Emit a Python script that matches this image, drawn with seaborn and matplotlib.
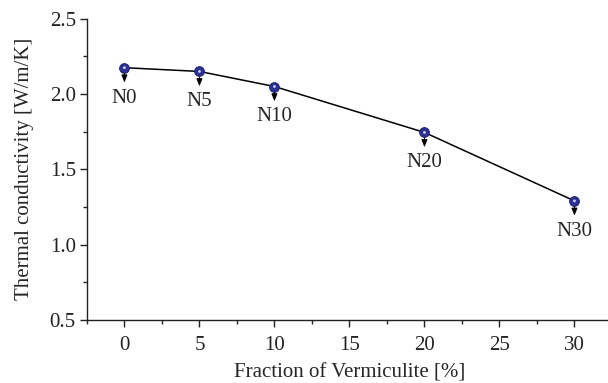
import matplotlib
matplotlib.use("Agg")
import matplotlib.pyplot as plt
import seaborn as sns
import pandas as pd

# data
fraction = [0, 5, 10, 20, 30]
conductivity = [2.175, 2.15, 2.05, 1.745, 1.29]
sample_names = ["N0", "N5", "N10", "N20", "N30"]

df = pd.DataFrame({"fraction": fraction, "k": conductivity, "name": sample_names})

sns.set_style("ticks")
plt.rcParams["font.family"] = ["Liberation Serif", "DejaVu Serif"]
plt.rcParams["font.size"] = 15

fig = plt.figure(figsize=(6.08, 3.83), dpi=100)
ax = fig.add_axes([0.143, 0.165, 0.8635, 0.786])

sns.lineplot(data=df, x="fraction", y="k", color="black", linewidth=1.1, ax=ax, zorder=2)
sns.scatterplot(data=df, x="fraction", y="k", s=50, color="#2a2f9c",
                edgecolor="#1b1f6e", linewidth=0.6, ax=ax, zorder=3)
# small highlight on each bead
sns.scatterplot(data=df, x="fraction", y="k", s=4, color="#d0d3f2",
                edgecolor="none", ax=ax, zorder=4)

for _, row in df.iterrows():
    ax.annotate(row["name"], xy=(row["fraction"], row["k"]), xytext=(0, -15),
                textcoords="offset points", ha="center", va="top", fontsize=15,
                arrowprops=dict(arrowstyle="<|-,head_width=0.12,head_length=0.3",
                                color="black", lw=0.7, shrinkA=2, shrinkB=4))

ax.set_xlim(-2.5, 32.5)
ax.set_ylim(0.5, 2.5)
ax.set_xticks([0, 5, 10, 15, 20, 25, 30])
ax.set_xticks([-2.5, 2.5, 7.5, 12.5, 17.5, 22.5, 27.5, 32.5], minor=True)
ax.set_yticks([0.5, 1.0, 1.5, 2.0, 2.5])
ax.set_yticks([0.75, 1.25, 1.75, 2.25], minor=True)
ax.tick_params(which="major", direction="out", length=5, width=1, labelsize=15,
               colors="#222222", pad=3)
ax.tick_params(axis="x", which="major", pad=7)
ax.tick_params(which="minor", direction="out", length=3, width=1)
for s in ["top", "right"]:
    ax.spines[s].set_visible(False)
for s in ["left", "bottom"]:
    ax.spines[s].set_linewidth(1)
    ax.spines[s].set_color("#222222")

ax.set_xlabel("Fraction of Vermiculite [%]", fontsize=15, labelpad=6)
ax.set_ylabel("Thermal conductivity [W/m/K]", fontsize=15, labelpad=11)

fig.savefig("out.png", dpi=100)
